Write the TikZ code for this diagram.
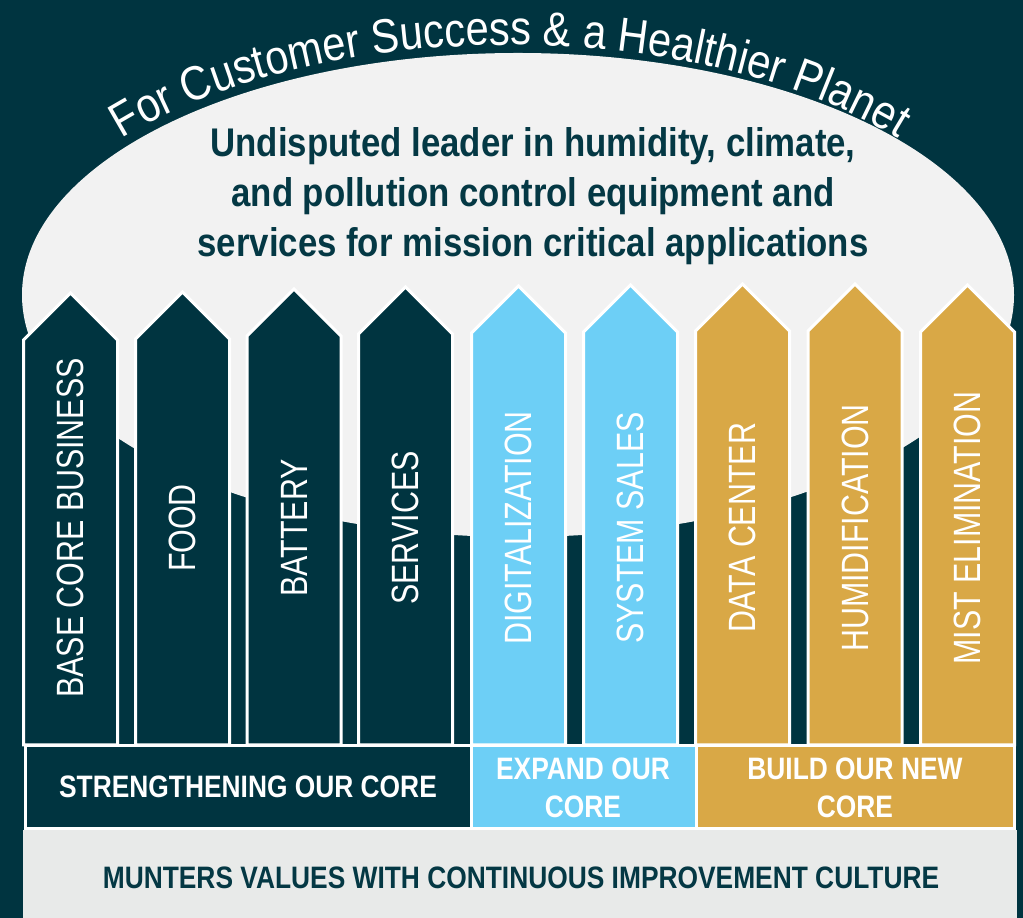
\documentclass[tikz,border=0pt]{standalone}
\usepackage{fontspec}
\setmainfont{Liberation Sans}
\newfontfamily\nrw[FakeStretch=0.80]{Liberation Sans}
\newfontfamily\bandf[FakeStretch=0.85]{Liberation Sans}
\newfontfamily\titlef[FakeStretch=0.87]{Liberation Sans}
\newfontfamily\curvef[FakeStretch=0.87]{Liberation Sans}
\usetikzlibrary{decorations.text}
\definecolor{bgdark}{HTML}{003440}
\definecolor{dome}{HTML}{F2F2F2}
\definecolor{lblue}{HTML}{6DCFF6}
\definecolor{gold}{HTML}{D9A846}
\definecolor{bottomgray}{HTML}{E8EAE9}
\definecolor{textdark}{HTML}{043844}
\begin{document}
\begin{tikzpicture}[x=1pt,y=1pt,
  pillar/.style={line width=3pt, draw=white, line join=miter},
  plabel/.style={rotate=90, text=white, font=\nrw\fontsize{38}{40}\selectfont, inner sep=0pt},
  band/.style={line width=3pt, draw=white},
  bandtext/.style={text=white, font=\bandf\bfseries\fontsize{31}{38}\selectfont, anchor=base, inner sep=0pt},
  titletext/.style={text=textdark, font=\titlef\bfseries\fontsize{40}{50}\selectfont, anchor=base, inner sep=0pt},
  basetext/.style={text=textdark, font=\bandf\bfseries\fontsize{31}{38}\selectfont, anchor=base, inner sep=0pt}]
\useasboundingbox (0,0) rectangle (1023,918);
\fill[bgdark] (0,0) rectangle (1023,918);
% dome
\fill[dome] (518,623) ellipse [x radius=496pt, y radius=242pt];
% curved slogan
\path[decorate, decoration={text along path, text align=center,
  text={|\curvef\fontsize{48}{48}\selectfont\color{white}|For Customer Success {\&} a Healthier Planet}}]
  (510,613) ++(160:505pt and 260pt) arc[start angle=160, end angle=20, x radius=505pt, y radius=260pt];
% title
\node[titletext] (t1) at (533,761) {Undisputed leader in humidity, climate,};
\node[titletext] (t2) at (533,711) {and pollution control equipment and};
\node[titletext] (t3) at (533,661) {services for mission critical applications};
% pillars
\foreach \cx/\ap/\col/\lab [count=\i] in {
  70.5/293/bgdark/BASE CORE BUSINESS,
  182.5/292/bgdark/FOOD,
  294/289/bgdark/BATTERY,
  405.5/287/bgdark/SERVICES,
  518.5/286/lblue/DIGITALIZATION,
  630.5/285/lblue/SYSTEM SALES,
  742.5/284/gold/DATA CENTER,
  855/284/gold/HUMIDIFICATION,
  967.5/285/gold/MIST ELIMINATION}{
  \filldraw[pillar, fill=\col] (\cx-47,173) -- (\cx-47,918-\ap-47) -- (\cx,918-\ap)
     -- (\cx+47,918-\ap-47) -- (\cx+47,173) -- cycle;
  \node[plabel] (p\i) at (\cx,390) {\lab};
}
% bottom gray band
\fill[bottomgray] (23,0) rectangle (1017,88);
% category bands
\filldraw[band, fill=bgdark] (25.5,89) rectangle (471,172.5);
\filldraw[band, fill=lblue] (471,89) rectangle (696,172.5);
\filldraw[band, fill=gold] (696,89) rectangle (1014.5,172.5);
\node[bandtext] (b1) at (248,120) {STRENGTHENING OUR CORE};
\node[bandtext] (b2a) at (583,138) {EXPAND OUR};
\node[bandtext] (b2b) at (583,100) {CORE};
\node[bandtext] (b3a) at (855,138) {BUILD OUR NEW};
\node[bandtext] (b3b) at (855,100) {CORE};
\node[basetext] (base) at (521,29) {MUNTERS VALUES WITH CONTINUOUS IMPROVEMENT CULTURE};
\end{tikzpicture}
\end{document}
